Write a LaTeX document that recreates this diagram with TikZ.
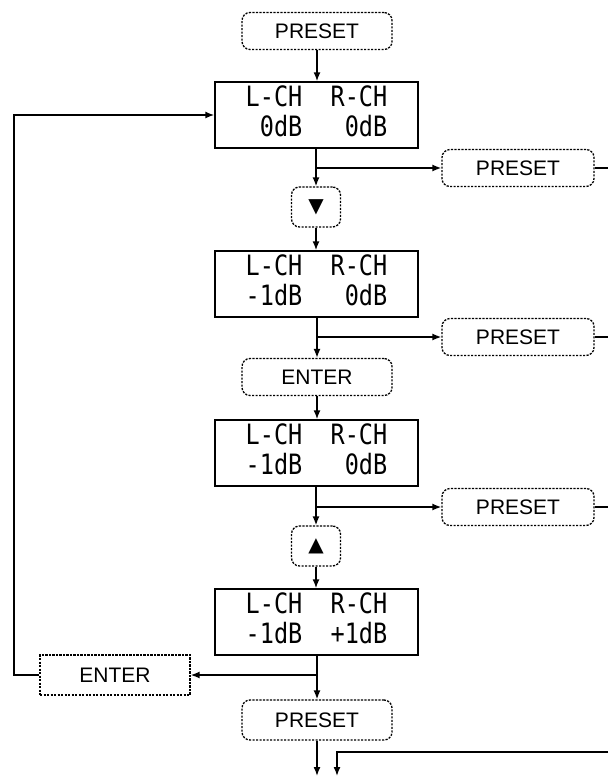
\documentclass[tikz,border=0pt]{standalone}
\usepackage{fontspec}
\usepackage{graphicx}
\setmainfont{Liberation Sans}
\setmonofont{DejaVu Sans Mono}
\newfontfamily\symfont{DejaVu Sans}
\usetikzlibrary{arrows.meta}
\newcommand{\lcd}[2]{\scalebox{0.84}[1]{\fontsize{28}{28}\selectfont\ttfamily\begin{tabular}{@{}l@{}}#1\\#2\end{tabular}}}
\newcommand{\ph}{\phantom{0}}
\tikzset{
  disp/.style={draw, line width=1.4pt, minimum width=203pt, minimum height=66pt, inner sep=0pt},
  keybox/.style={draw, line width=1.3pt, dash pattern=on 2.2pt off 1.3pt, rounded corners=8pt,
     minimum width=150pt, minimum height=37pt, inner sep=0pt, font=\fontsize{21}{21}\selectfont},
  keysq/.style={keybox, rounded corners=0pt},
  arrbox/.style={keybox, minimum width=49pt, minimum height=40pt},
  conn/.style={line width=1.5pt},
  arr/.style={conn, -{Latex[length=9pt,width=7pt]}}
}
\begin{document}
\begin{tikzpicture}[x=1pt,y=-1pt]
\fill[white] (0,0) rectangle (608,779);
\useasboundingbox (0,0) rectangle (608,779);

\node[keybox] (p0) at (317,31) {PRESET};
\node[disp] (d1) at (316.5,115) {\lcd{L-CH\ph\ph R-CH}{\ph 0dB\ph\ph\ph 0dB}};
\node[keybox, minimum width=152pt] (p1) at (518,168) {PRESET};
\node[arrbox] (dn) at (316,207) {\symfont\fontsize{20}{20}\selectfont ▼};
\node[disp] (d2) at (316.5,284) {\lcd{L-CH\ph\ph R-CH}{-1dB\ph\ph\ph 0dB}};
\node[keybox, minimum width=152pt] (p2) at (518,337) {PRESET};
\node[keybox] (en1) at (317,377) {ENTER};
\node[disp] (d3) at (316.5,453) {\lcd{L-CH\ph\ph R-CH}{-1dB\ph\ph\ph 0dB}};
\node[keybox, minimum width=152pt] (p3) at (518,507) {PRESET};
\node[arrbox] (up) at (316,546) {\symfont\fontsize{20}{20}\selectfont ▲};
\node[disp] (d4) at (316.5,622) {\lcd{L-CH\ph\ph R-CH}{-1dB\ph\ph +1dB}};
\node[keysq, minimum height=40pt] (en2) at (115,675) {ENTER};
\node[keybox, minimum height=40pt] (p4) at (317,720) {PRESET};

\coordinate (r1) at (608,168);
\coordinate (r2) at (608,337);
\coordinate (r3) at (608,507);
\coordinate (rb) at (608,752);
\coordinate (o1) at (317,776);
\coordinate (o2) at (337,776);
\coordinate (lb) at (14,675);

\draw[arr] (p0.south) -- (p0.south |- d1.north);
\draw[arr] (d1.south -| dn) -- (dn.north);
\draw[arr] (dn |- 0,168) -- (p1.west);
\draw[conn] (p1.east) -- (r1);
\draw[arr] (dn.south) -- (dn.south |- d2.north);
\draw[arr] (d2.south -| en1) -- (en1.north);
\draw[arr] (en1 |- 0,337) -- (p2.west);
\draw[conn] (p2.east) -- (r2);
\draw[arr] (en1.south) -- (en1.south |- d3.north);
\draw[arr] (d3.south -| up) -- (up.north);
\draw[arr] (up |- 0,507) -- (p3.west);
\draw[conn] (p3.east) -- (r3);
\draw[arr] (up.south) -- (up.south |- d4.north);
\draw[arr] (d4.south -| p4) -- (p4.north);
\draw[arr] (p4 |- 0,675) -- (en2.east);
\draw[arr] (en2.west) -- (lb) |- (d1.west);
\draw[arr] (p4.south) -- (o1);
\draw[arr] (rb) -| (o2);
\end{tikzpicture}
\end{document}
